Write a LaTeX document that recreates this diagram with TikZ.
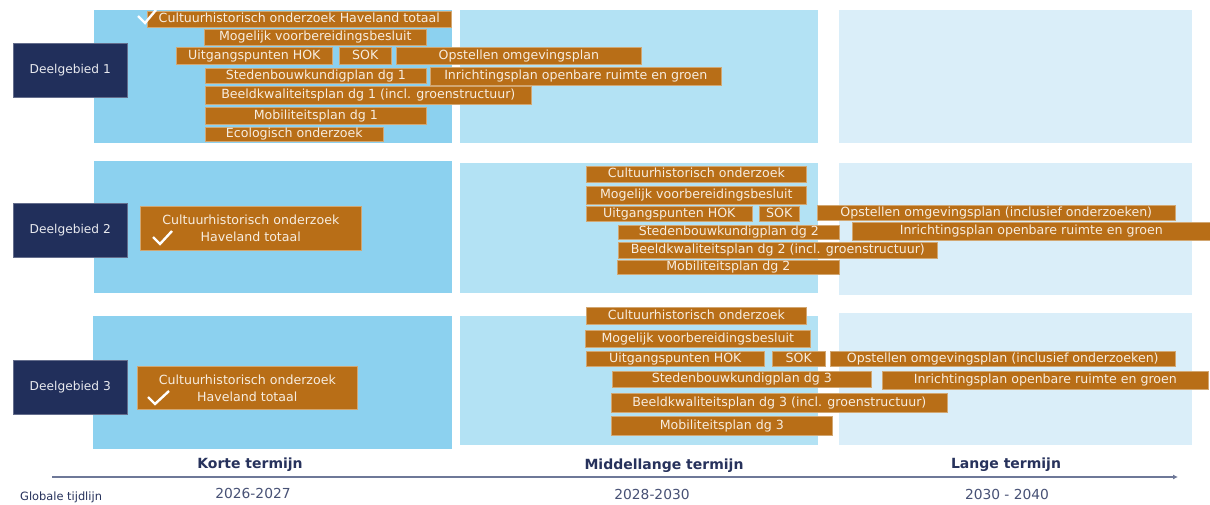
\documentclass[tikz,border=0pt]{standalone}
\usepackage{fontspec}
\setmainfont{DejaVu Sans}
\usetikzlibrary{arrows.meta}
\definecolor{kolA}{HTML}{8CD1EF}
\definecolor{kolB}{HTML}{B3E2F4}
\definecolor{kolC}{HTML}{DAEEF9}
\definecolor{navy}{HTML}{212F5B}
\definecolor{oranje}{HTML}{B86E17}
\definecolor{rand}{HTML}{D2A772}
\definecolor{creme}{HTML}{F7EDE0}
\definecolor{tijd}{HTML}{27325C}
\definecolor{lijn}{HTML}{6E7898}
\tikzset{
  vlak/.style={fill=#1, draw=none, inner sep=0pt, anchor=north west},
  gebied/.style={fill=navy, draw=navy!70!white, line width=0.5pt, inner sep=0pt, anchor=north west,
     text=white!90!navy, font=\fontsize{12.2}{14}\selectfont},
  taak/.style={fill=oranje, draw=rand, line width=0.6pt, inner sep=0pt, anchor=north west,
     text=creme, font=\fontsize{12.6}{15}\selectfont, text height=9pt, text depth=2.4pt},
  taakgroot/.style={fill=oranje, draw=rand, line width=0.6pt, inner sep=0pt, anchor=north west,
     text=creme, font=\fontsize{12.6}{17}\selectfont, align=center},
  vink/.style={draw=white, line width=2.4pt, line join=miter},
  termijn/.style={text=tijd, font=\bfseries\fontsize{14}{16}\selectfont},
  jaar/.style={text=tijd!85!white, font=\fontsize{13.8}{16}\selectfont},
  tijdlijn/.style={draw=lijn, line width=1.8pt, -{Latex[length=5pt,width=5pt]}}
}
\newcommand\vlakje[6]{\node[vlak=#6, minimum width={(#4-#2)*1pt}, minimum height={(#5-#3)*1pt}] (#1) at (#2,#3) {};}
\newcommand\taak[6]{\node[taak, minimum width={(#4-#2)*1pt}, minimum height={(#5-#3)*1pt}] (#1) at (#2,#3) {#6};}
\newcommand\gebiedje[6]{\node[gebied, minimum width={(#4-#2)*1pt}, minimum height={(#5-#3)*1pt}] (#1) at (#2,#3) {#6};}
\newcommand\taakgroot[6]{\node[taakgroot, minimum width={(#4-#2)*1pt}, minimum height={(#5-#3)*1pt}] (#1) at (#2,#3) {#6};}
\begin{document}
\begin{tikzpicture}[x=1pt,y=-1pt]
\useasboundingbox[fill=white] (0,0) rectangle (1210,504);
% panels
\vlakje{p11}{94}{10}{452}{143}{kolA}
\vlakje{p12}{460}{10}{818}{143}{kolB}
\vlakje{p13}{839}{10}{1192}{143}{kolC}
\vlakje{p21}{94}{161}{452}{293}{kolA}
\vlakje{p22}{460}{163}{818}{293}{kolB}
\vlakje{p23}{839}{163}{1192}{295}{kolC}
\vlakje{p31}{93}{316}{452}{449}{kolA}
\vlakje{p32}{460}{316}{818}{445}{kolB}
\vlakje{p33}{839}{313}{1192}{445}{kolC}
% deelgebieden
\gebiedje{n1}{13}{43}{127}{97}{Deelgebied 1}
\gebiedje{n2}{13}{203}{127}{257}{Deelgebied 2}
\gebiedje{n3}{13}{360}{127}{414}{Deelgebied 3}
% row 1
\taak{a1}{147}{11}{451}{27}{Cultuurhistorisch onderzoek Haveland totaal}
\taak{a2}{204}{29}{426}{45}{Mogelijk voorbereidingsbesluit}
\taak{a3}{176}{47}{332}{64}{Uitgangspunten HOK}
\taak{a4}{339}{47}{391}{64}{SOK}
\taak{a5}{396}{47}{641}{64}{Opstellen omgevingsplan}
\taak{a6}{205}{68}{426}{83}{Stedenbouwkundigplan dg 1}
\taak{a7}{430}{67}{721}{85}{Inrichtingsplan openbare ruimte en groen}
\taak{a8}{205}{86}{531}{104}{Beeldkwaliteitsplan dg 1 (incl. groenstructuur)}
\taak{a9}{205}{107}{426}{124}{Mobiliteitsplan dg 1}
\taak{a10}{205}{127}{383}{141}{Ecologisch onderzoek}
% row 2
\taakgroot{b0}{140}{206}{361}{250}{Cultuurhistorisch onderzoek\\Haveland totaal}
\taak{b1}{586}{166}{806}{182}{Cultuurhistorisch onderzoek}
\taak{b2}{586}{186}{806}{204}{Mogelijk voorbereidingsbesluit}
\taak{b3}{586}{206}{752}{221}{Uitgangspunten HOK}
\taak{b4}{759}{206}{799}{221}{SOK}
\taak{b5}{817}{205}{1175}{220}{Opstellen omgevingsplan (inclusief onderzoeken)}
\taak{b6}{618}{225}{839}{239}{Stedenbouwkundigplan dg 2}
\taak{b7}{852}{222}{1210}{240}{Inrichtingsplan openbare ruimte en groen}
\taak{b8}{618}{242}{937}{258}{Beeldkwaliteitsplan dg 2 (incl. groenstructuur)}
\taak{b9}{617}{260}{839}{274}{Mobiliteitsplan dg 2}
% row 3
\taakgroot{c0}{137}{366}{357}{409}{Cultuurhistorisch onderzoek\\Haveland totaal}
\taak{c1}{586}{307}{806}{324}{Cultuurhistorisch onderzoek}
\taak{c2}{585}{330}{810}{347}{Mogelijk voorbereidingsbesluit}
\taak{c3}{586}{351}{764}{366}{Uitgangspunten HOK}
\taak{c4}{772}{351}{825}{366}{SOK}
\taak{c5}{830}{351}{1175}{366}{Opstellen omgevingsplan (inclusief onderzoeken)}
\taak{c6}{612}{371}{871}{387}{Stedenbouwkundigplan dg 3}
\taak{c7}{882}{371}{1208}{389}{Inrichtingsplan openbare ruimte en groen}
\taak{c8}{611}{393}{947}{412}{Beeldkwaliteitsplan dg 3 (incl. groenstructuur)}
\taak{c9}{611}{416}{832}{435}{Mobiliteitsplan dg 3}
% checkmarks
\draw[vink] (138,16) -- (145,23) -- (156,10);
\draw[vink] (153,237) -- (160,244) -- (172,231);
\draw[vink] (148,397) -- (155,404) -- (169,391);
% timeline
\coordinate (t0) at (52,477);
\coordinate (t1) at (1178,477);
\draw[tijdlijn] (t0) -- (t1);
\node[termijn] (k1) at (250,465) {Korte termijn};
\node[termijn] (k2) at (664,466) {Middellange termijn};
\node[termijn] (k3) at (1006,465) {Lange termijn};
\node[jaar] (j1) at (253,493) {2026-2027};
\node[jaar] (j2) at (652,494) {2028-2030};
\node[jaar] (j3) at (1007,494) {2030 - 2040};
\node[anchor=west, text=tijd, font=\fontsize{11.4}{13}\selectfont, inner sep=0pt] (gt) at (20,497) {Globale tijdlijn};
\end{tikzpicture}
\end{document}
